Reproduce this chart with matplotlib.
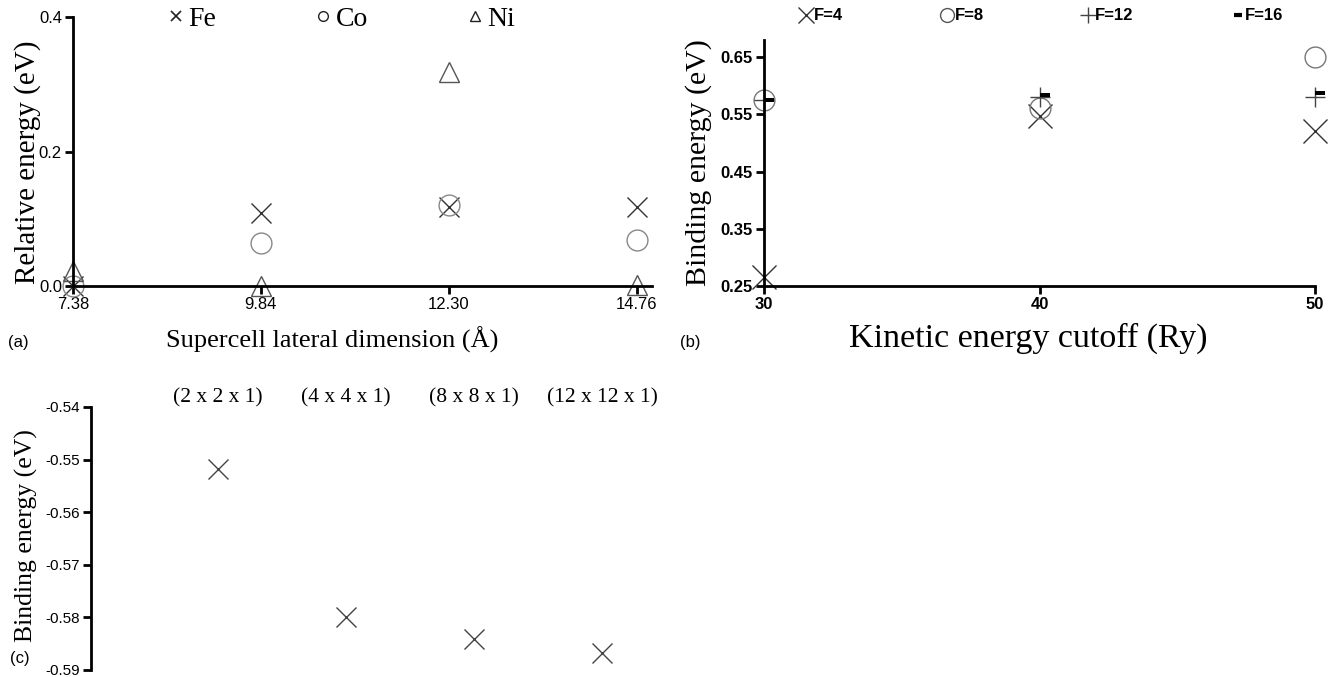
import numpy as np
import matplotlib as mpl
import matplotlib.pyplot as plt
from matplotlib.lines import Line2D

mpl.rcParams['font.family'] = 'Liberation Sans'
SERIF = 'Liberation Serif'

# (a) supercell size test
sizes = [7.38, 9.84, 12.30, 14.76]
size_labels = ['7.38', '9.84', '12.30', '14.76']
fe = [0.0, 0.108, 0.117, 0.118]
co = [0.0, 0.064, 0.121, 0.069]
ni = [0.022, 0.0, 0.318, 0.002]

# (b) kinetic energy cutoff test
cutoff = [30, 40, 50]
f4 = [0.266, 0.548, 0.521]
f8 = [0.575, 0.562, 0.650]
f12 = [0.575, 0.581, 0.580]
f16 = [0.575, 0.583, 0.587]

# (c) k-point grid test
kpts = ['(2 x 2 x 1)', '(4 x 4 x 1)', '(8 x 8 x 1)', '(12 x 12 x 1)']
ebind = [-0.5518, -0.5800, -0.5841, -0.5867]

W, H = 1331, 677
fig = plt.figure(figsize=(W / 100, H / 100), dpi=100)

# marker for F=16: short thick bar to the right of the point
bar = [(0, -0.2), (1, -0.2), (1, 0.2), (0, 0.2), (0, -0.2)]


def style_axes(ax, size, bold=False):
    for s in ['top', 'right']:
        ax.spines[s].set_visible(False)
    for s in ['left', 'bottom']:
        ax.spines[s].set_linewidth(2)
    ax.tick_params(width=2, length=6, direction='out', labelsize=size, pad=2)
    if bold:
        for lab in ax.get_xticklabels() + ax.get_yticklabels():
            lab.set_fontweight('bold')


# ---------------- (a)
axa = fig.add_axes([73 / W, 1 - 286 / H, (652 - 73) / W, (286 - 17) / H])
axa.plot(sizes, fe, 'x', color='#333333', ms=15, mew=1.0, clip_on=False)
axa.plot(sizes, co, 'o', mfc='none', mec='#888888', ms=15, mew=1.0, clip_on=False)
axa.plot(sizes, ni, '^', mfc='none', mec='#555555', ms=15, mew=1.0, clip_on=False)
axa.set_xlim(7.38, 14.96)
axa.set_ylim(0, 0.4)
axa.set_xticks(sizes, size_labels)
axa.set_yticks([0.0, 0.2, 0.4], ['0.0', '0.2', '0.4'])
style_axes(axa, 12)
axa.set_ylabel('Relative energy (eV)', family=SERIF, fontsize=21)
axa.yaxis.set_label_coords(-0.056, 0.461)
axa.set_xlabel('Supercell lateral dimension (Å)', family=SERIF, fontsize=19)
axa.xaxis.set_label_coords(0.447, -0.15)

hda = [Line2D([], [], ls='none', marker='x', color='#222222', ms=7, mew=1.2),
       Line2D([], [], ls='none', marker='o', mfc='none', mec='#222222', ms=7, mew=1.0),
       Line2D([], [], ls='none', marker='^', mfc='none', mec='#222222', ms=7, mew=1.0)]
fig.legend(hda, ['Fe', 'Co', 'Ni'], loc='center', bbox_to_anchor=(342 / W, 1 - 19 / H),
           ncol=3, frameon=False, handlelength=0.5, handletextpad=0.2,
           columnspacing=3.6, prop={'family': SERIF, 'size': 20})

# ---------------- (b)
axb = fig.add_axes([764 / W, 1 - 286 / H, (1315 - 764) / W, (286 - 40) / H])
axb.plot(cutoff, f4, 'x', color='#333333', ms=17, mew=1.0, clip_on=False)
axb.plot(cutoff, f8, 'o', mfc='none', mec='#777777', ms=15, mew=1.0, clip_on=False)
axb.plot(cutoff, f12, '+', color='#444444', ms=15, mew=1.0, clip_on=False)
axb.plot(cutoff, f16, marker=bar, ls='none', color='black', ms=14, mew=0, clip_on=False)
axb.set_xlim(30, 50)
axb.set_ylim(0.25, 0.68)
axb.set_xticks([30, 40, 50])
axb.set_yticks([0.25, 0.35, 0.45, 0.55, 0.65], ['0.25', '0.35', '0.45', '0.55', '0.65'])
style_axes(axb, 12, bold=True)
axb.set_ylabel('Binding energy (eV)', family=SERIF, fontsize=21.5, labelpad=6)
axb.set_xlabel('Kinetic energy cutoff (Ry)', family=SERIF, fontsize=24.5)
axb.xaxis.set_label_coords((1028 - 764) / 551, -0.15)

hdb = [Line2D([], [], ls='none', marker='x', color='#333333', ms=11, mew=1.0),
       Line2D([], [], ls='none', marker='o', mfc='none', mec='#555555', ms=10, mew=1.0),
       Line2D([], [], ls='none', marker='+', color='#444444', ms=11, mew=1.0),
       Line2D([], [], ls='none', marker='_', color='black', ms=6, mew=3)]
fig.legend(hdb, ['F=4', 'F=8', 'F=12', 'F=16'], loc='center',
           bbox_to_anchor=(1042 / W, 1 - 16 / H), ncol=4, frameon=False,
           handlelength=0.7, handletextpad=0.1, columnspacing=5.9,
           prop={'weight': 'bold', 'size': 12})

# ---------------- (c)
axc = fig.add_axes([91 / W, 1 - 670 / H, (665 - 91) / W, (670 - 407) / H])
xc = np.arange(len(kpts))
axc.plot(xc, ebind, 'x', color='#444444', ms=15, mew=1.0)
axc.set_xlim(-0.99, 3.49)
axc.set_ylim(-0.59, -0.54)
axc.set_yticks([-0.54, -0.55, -0.56, -0.57, -0.58, -0.59],
               ['-0.54', '-0.55', '-0.56', '-0.57', '-0.58', '-0.59'])
for s in ['top', 'right', 'bottom']:
    axc.spines[s].set_visible(False)
axc.spines['left'].set_linewidth(2)
axc.tick_params(axis='y', width=2, length=6, labelsize=11, pad=2)
axc.xaxis.tick_top()
axc.set_xticks(xc, kpts)
axc.tick_params(axis='x', length=0, pad=0, labelsize=15.5)
for lab in axc.get_xticklabels():
    lab.set_fontfamily(SERIF)
axc.set_ylabel('Binding energy (eV)', family=SERIF, fontsize=18.5)
axc.yaxis.set_label_coords(-0.092, 0.51)

# panel letters
fig.text(8 / W, 1 - 343 / H, '(a)', fontsize=12, va='center', ha='left')
fig.text(680 / W, 1 - 343 / H, '(b)', fontsize=12, va='center', ha='left')
fig.text(10 / W, 1 - 659 / H, '(c)', fontsize=12, va='center', ha='left')

plt.savefig('out.png', dpi=100)
